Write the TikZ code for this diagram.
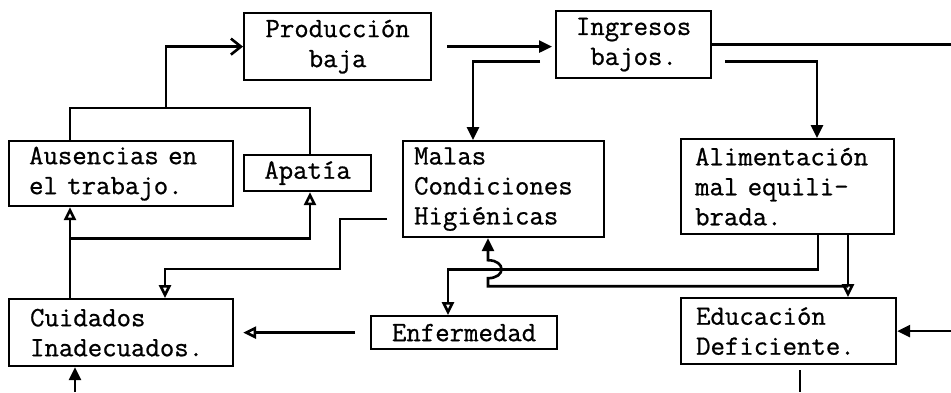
\documentclass[tikz,border=0pt]{standalone}
\usepackage{fontspec}
\setmonofont{Latin Modern Mono}[FakeBold=0.8]
\usepackage{tikz}
\usetikzlibrary{arrows.meta, calc}

\tikzset{
  box/.style={draw, line width=2.2pt, font=\ttfamily\fontsize{28}{30}\selectfont, anchor=north west, inner ysep=2pt},
  lbox/.style={box, align=left},
  cbox/.style={box, align=center},
  arr/.style={-{Triangle[open, length=13pt, width=12pt]}},
  farr/.style={-{Triangle[length=13pt, width=12pt]}},
  varr/.style={-{Straight Barb[length=10pt, width=16pt]}}
}

\begin{document}
\begin{tikzpicture}[x=1pt, y=-1pt, line width=2.6pt]
\useasboundingbox (0,0) rectangle (951,392);
\coordinate (re) at (951,0);
\coordinate (jt) at (166,108);
\coordinate (eb) at (800,392);
\coordinate (cb) at (75,392);

\node[cbox, minimum width=187pt, minimum height=67pt] (prod) at (243,12) {Producción\\baja};
\node[cbox, minimum width=155pt, minimum height=67pt] (ing) at (555,10) {Ingresos\\bajos.};
\node[lbox, text width=184pt, inner xsep=20pt, minimum height=65pt] (aus) at (8,140) {Ausencias en\\el trabajo.};
\node[cbox, minimum width=127pt, minimum height=36pt] (apa) at (243,154) {Apatía};
\node[lbox, text width=179pt, inner xsep=11pt, minimum height=96pt] (mal) at (402,140) {Malas\\Condiciones\\Higiénicas};
\node[lbox, text width=185pt, inner xsep=14pt, minimum height=95pt] (ali) at (680,138) {Alimentación\\mal equili-\\brada.};
\node[lbox, text width=182pt, inner xsep=21pt, minimum height=67pt] (cui) at (8,298) {Cuidados\\Inadecuados.};
\node[cbox, minimum width=186pt, minimum height=33pt] (enf) at (370,315) {Enfermedad};
\node[lbox, text width=185pt, inner xsep=15pt, minimum height=66pt] (edu) at (680,297) {Educación\\Deficiente.};

\draw ([xshift=62pt]aus.north west) -- ++(0,-32) -| ([xshift=67pt]apa.north west);
\draw[varr] (jt) |- (prod.west);
\draw[farr, shorten <=15pt, shorten >=3pt] (prod.east) -- (prod.east -| ing.west);
\draw[farr, shorten <=15pt] ([yshift=-17pt]ing.west) -| ([xshift=71pt]mal.north west);
\draw[farr, shorten <=13pt] ([yshift=-17pt]ing.east) -| ([xshift=137pt]ali.north west);
\draw (ing.east) -- (ing.east -| re);
\draw[farr] (edu.east -| re) -- (edu.east);
\draw[shorten <=5pt] ([xshift=120pt]edu.south west) -- (eb);
\draw[farr] (cb) -- ([xshift=67pt]cui.south west);
\draw[arr] ([xshift=62pt]cui.north west) -- ([xshift=62pt]aus.south west);
\draw[arr] ([xshift=62pt, yshift=-31pt]aus.south west) -| ([xshift=67pt]apa.south west);
\draw[arr, shorten <=15pt] ([yshift=-30pt]mal.west) -- ++(-62,0) -- ++(0,50) -| ([xshift=157pt]cui.north west);
\draw[arr, shorten <=15pt, shorten >=9pt] (enf.west) -- (enf.west -| cui.east);
\draw[arr] ([xshift=138pt]ali.south west) -- ++(0,34) -| ([xshift=78pt]enf.north west);
\draw[arr] ([xshift=168pt]ali.south west) -- ([xshift=168pt]edu.north west);
\draw[farr] ($(ali.south west)+(168,51)$) -- ++(-360,0) -- ++(0,-8) .. controls +(18,0) and +(18,0) .. ++(0,-18) -- ([xshift=86pt]mal.south west);
\end{tikzpicture}
\end{document}
